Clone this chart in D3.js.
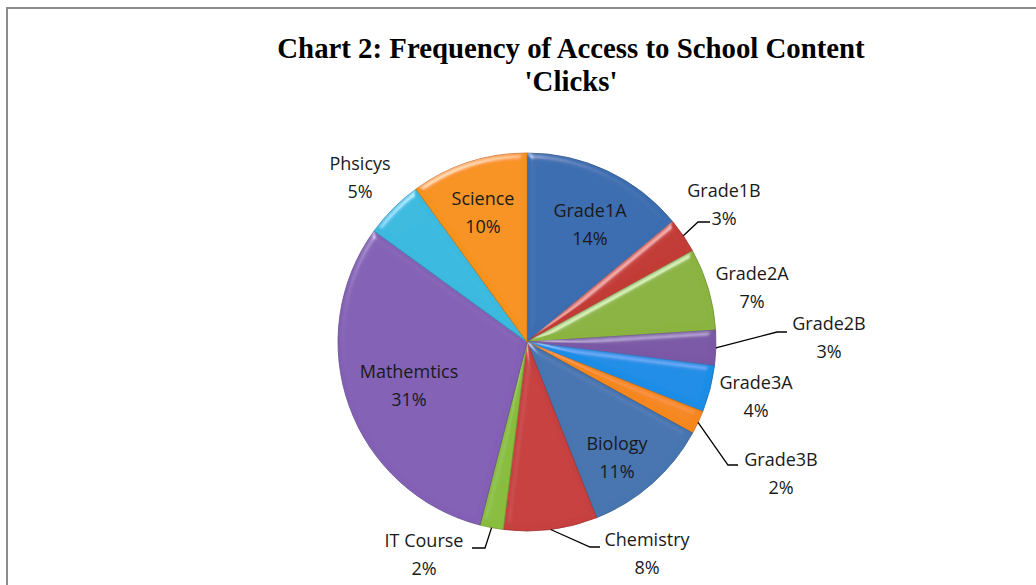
<!DOCTYPE html>
<html>
<head>
<meta charset="utf-8">
<script src="https://cdn.jsdelivr.net/npm/d3@7"></script>
<style>
  html, body { margin: 0; padding: 0; background: #fff; }
  svg { display: block; }
</style>
</head>
<body>
<svg id="chart" width="1036" height="585"></svg>
<script>
// Share of clicks per school content area (percent)
const categories = ["Grade1A", "Grade1B", "Grade2A", "Grade2B", "Grade3A", "Grade3B",
                    "Biology", "Chemistry", "IT Course", "Mathemtics", "Phsicys", "Science"];
const shares = [14, 3, 7, 3, 4, 2, 11, 8, 2, 31, 5, 10];
const sliceColors = ["#3a6db0", "#c23a35", "#8ab341", "#7a58a6", "#1a8de6", "#f5871d",
                     "#4674b0", "#c74040", "#89bd3e", "#8360b5", "#3ab9df", "#f7921d"];

// Label placement relative to the pie centre; leader = [elbow, end]
const labelLayout = {
  "Grade1A":   { at: [63, -117] },
  "Grade1B":   { at: [197, -137], leader: [[171, -120], [183, -120]] },
  "Grade2A":   { at: [225, -54] },
  "Grade2B":   { at: [302, -4],   leader: [[250, -10], [260, -10]] },
  "Grade3A":   { at: [229, 55] },
  "Grade3B":   { at: [254, 132],  leader: [[201, 123], [211, 123]] },
  "Biology":   { at: [90, 116] },
  "Chemistry": { at: [120, 212],  leader: [[63, 205], [73, 205]] },
  "IT Course": { at: [-103, 213], leader: [[-42, 206], [-55, 206]] },
  "Mathemtics":{ at: [-118, 44] },
  "Phsicys":   { at: [-167, -164] },
  "Science":   { at: [-44, -129] }
};

const svg = d3.select("#chart");
const cx = 527, cy = 342, r = 189;

// chart area frame
svg.append("rect")
  .attr("x", 7).attr("y", 8).attr("width", 1200).attr("height", 800)
  .attr("fill", "#fff").attr("stroke", "#8c8c8c").attr("stroke-width", 2);

// title
const title = svg.append("text")
  .attr("text-anchor", "middle")
  .attr("font-family", "'Liberation Serif', 'DejaVu Serif', serif")
  .attr("font-weight", "bold")
  .attr("font-size", 28.8)
  .attr("fill", "#000");
title.append("tspan").attr("x", 571).attr("y", 58).text("Chart 2: Frequency of Access to School Content");
title.append("tspan").attr("x", 571).attr("y", 91).text("'Clicks'");

// soft bevel along slice edges
const defs = svg.append("defs");
const f = defs.append("filter").attr("id", "bevel")
  .attr("x", "-10%").attr("y", "-10%").attr("width", "120%").attr("height", "120%");
f.append("feGaussianBlur").attr("in", "SourceAlpha").attr("stdDeviation", 3).attr("result", "blur");
const spec = f.append("feSpecularLighting").attr("in", "blur")
  .attr("surfaceScale", 4).attr("specularConstant", 0.6).attr("specularExponent", 30)
  .attr("lighting-color", "#ffffff").attr("result", "spec");
spec.append("fePointLight").attr("x", -3000).attr("y", -6000).attr("z", 4000);
f.append("feComposite").attr("in", "spec").attr("in2", "SourceAlpha").attr("operator", "in").attr("result", "specOut");
f.append("feComposite").attr("in", "SourceGraphic").attr("in2", "specOut")
  .attr("operator", "arithmetic").attr("k1", 0).attr("k2", 1).attr("k3", 0.7).attr("k4", 0);

const data = categories.map((c, i) => ({ name: c, value: shares[i], color: sliceColors[i] }));
const pie = d3.pie().value(d => d.value).sort(null);
const arcs = pie(data);
const arc = d3.arc().innerRadius(0).outerRadius(r);

const g = svg.append("g").attr("transform", `translate(${cx},${cy})`);

g.selectAll("path.slice").data(arcs).enter().append("path")
  .attr("class", "slice")
  .attr("d", arc)
  .attr("fill", d => d.data.color)
  .attr("stroke", d => d3.color(d.data.color).darker(0.6))
  .attr("stroke-width", 0.8)
  .attr("filter", "url(#bevel)");

// leader lines
arcs.forEach(d => {
  const lay = labelLayout[d.data.name];
  if (!lay.leader) return;
  const a = (d.startAngle + d.endAngle) / 2;
  const start = [Math.sin(a) * r, -Math.cos(a) * r];
  g.append("path")
    .attr("d", d3.line()([start, lay.leader[0], lay.leader[1]]))
    .attr("fill", "none").attr("stroke", "#000").attr("stroke-width", 1.3);
});

// data labels
arcs.forEach(d => {
  const lay = labelLayout[d.data.name];
  const t = g.append("text")
    .attr("text-anchor", "middle")
    .attr("font-family", "'Open Sans', 'Noto Sans', sans-serif")
    .attr("font-size", 18)
    .attr("fill", "#1a1a1a");
  t.append("tspan").attr("x", lay.at[0]).attr("y", lay.at[1] - 14).attr("dy", "0.35em").text(d.data.name);
  t.append("tspan").attr("x", lay.at[0]).attr("y", lay.at[1] + 14).attr("dy", "0.35em").text(d.data.value + "%");
});
</script>
</body>
</html>
